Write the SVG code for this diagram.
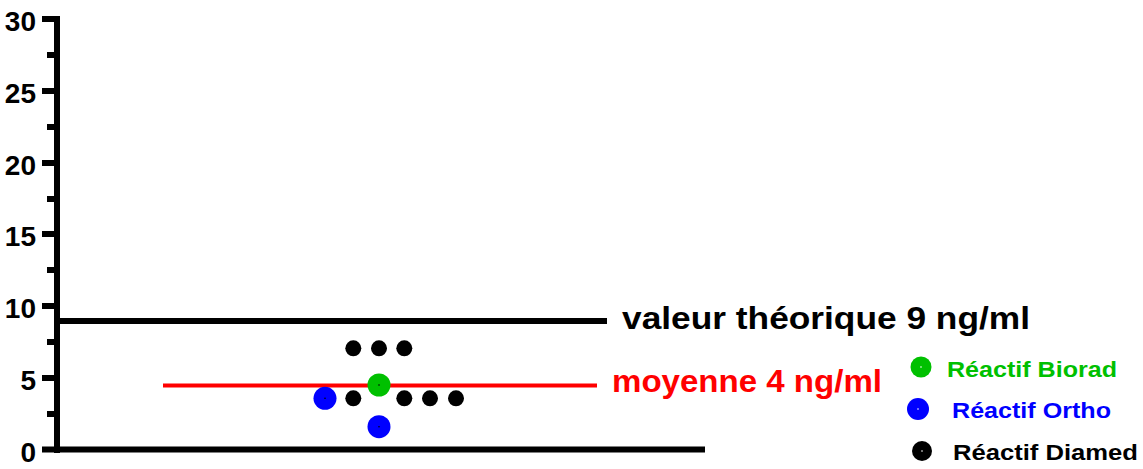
<svg xmlns="http://www.w3.org/2000/svg" width="1143" height="469" viewBox="0 0 1143 469">
<style>
.ax{stroke:#000;stroke-width:6;fill:none}
.tk{font-family:"Liberation Sans",Arial,sans-serif;font-weight:bold;font-size:28px;fill:#000;text-anchor:end}
.lbl{font-family:"Liberation Sans",Arial,sans-serif;font-weight:bold}
.leg{font-family:"Liberation Sans",Arial,sans-serif;font-weight:bold;font-size:22px}
</style>
<rect width="1143" height="469" fill="#fff"/>
<g id="axes">
<path class="ax" d="M57,16V453M42,449.5H705"/>
<path class="ax" d="M42,19H60M47,55H60M42,91H60M47,127H60M42,163H60M47,199H60M42,234H60M47,270H60M42,306H60M47,342H60M42,378H60M47,414H60"/>
<text class="tk" x="36" y="31">30</text>
<text class="tk" x="36" y="103">25</text>
<text class="tk" x="36" y="175">20</text>
<text class="tk" x="36" y="246">15</text>
<text class="tk" x="36" y="318">10</text>
<text class="tk" x="36" y="390">5</text>
<text class="tk" x="36" y="462">0</text>
</g>
<g id="reference-lines">
<line x1="57" y1="321" x2="607" y2="321" stroke="#000" stroke-width="6"/>
<line x1="163" y1="385.5" x2="597" y2="385.5" stroke="#f00" stroke-width="4"/>
<text class="lbl" x="622" y="329" font-size="32" fill="#000" textLength="408" lengthAdjust="spacingAndGlyphs">valeur théorique 9 ng/ml</text>
<text class="lbl" x="612" y="392" font-size="32" fill="#f00" textLength="270" lengthAdjust="spacingAndGlyphs">moyenne 4 ng/ml</text>
</g>
<g id="points">
<g fill="#000">
<circle cx="353.3" cy="348.3" r="8"/>
<circle cx="379" cy="348.3" r="8"/>
<circle cx="404.3" cy="348.3" r="8"/>
<circle cx="353.3" cy="398.3" r="8"/>
<circle cx="404.3" cy="398.3" r="8"/>
<circle cx="430" cy="398.3" r="8"/>
<circle cx="456" cy="398.3" r="8"/>
</g>
<circle cx="379" cy="385" r="11.5" fill="#00c000"/>
<circle cx="325" cy="398.3" r="11.5" fill="#00f"/>
<circle cx="379" cy="426.7" r="11.5" fill="#00f"/>
<g fill="#000">
<circle cx="379" cy="385" r="0.8"/>
<circle cx="325" cy="398.3" r="0.8"/>
<circle cx="379" cy="426.7" r="0.8"/>
</g>
</g>
<g id="legend-biorad">
<circle cx="921" cy="367" r="10.5" fill="#00c000"/>
<circle cx="921" cy="367" r="0.8" fill="#fff"/>
<text class="leg" x="947" y="377" fill="#00c000" textLength="170" lengthAdjust="spacingAndGlyphs">Réactif Biorad</text>
</g>
<g id="legend-ortho">
<circle cx="918" cy="409" r="11" fill="#00f"/>
<circle cx="918" cy="409" r="0.8" fill="#fff"/>
<text class="leg" x="952" y="418" fill="#00f" textLength="159" lengthAdjust="spacingAndGlyphs">Réactif Ortho</text>
</g>
<g id="legend-diamed">
<circle cx="922" cy="451" r="10" fill="#000"/>
<circle cx="922" cy="451" r="0.8" fill="#fff"/>
<text class="leg" x="953" y="460" fill="#000" textLength="185" lengthAdjust="spacingAndGlyphs">Réactif Diamed</text>
</g>
</svg>
